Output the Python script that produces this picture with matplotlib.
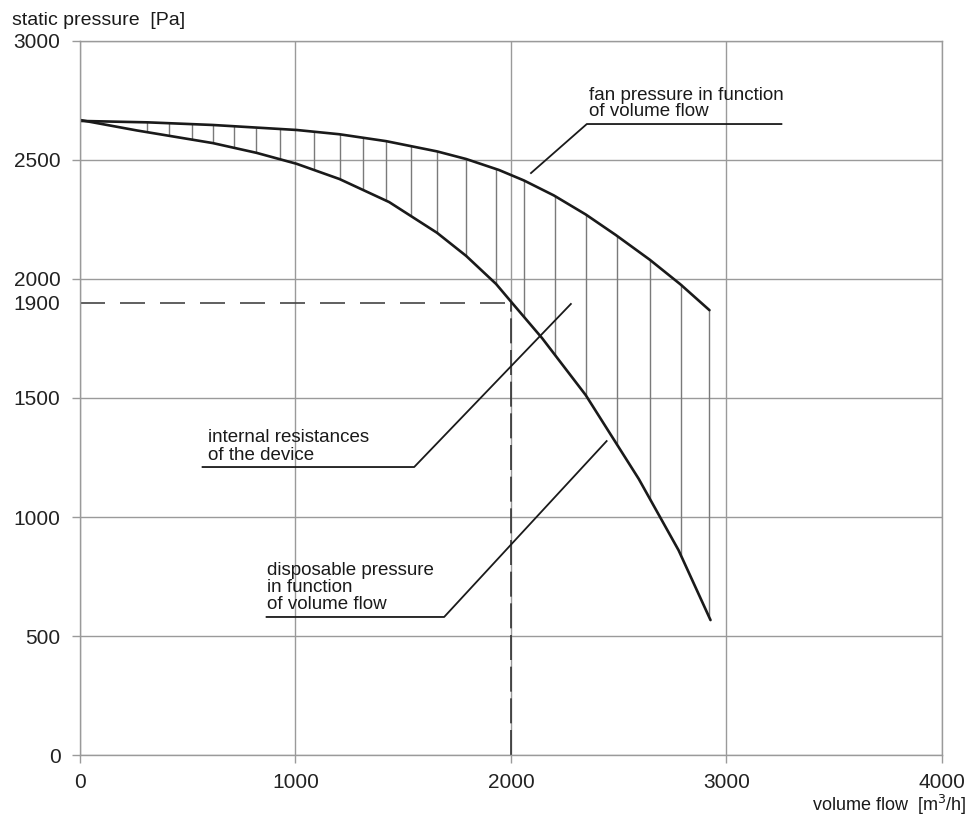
import matplotlib.pyplot as plt
import numpy as np

plt.rcParams["font.family"] = ["Liberation Sans", "DejaVu Sans"]

# fan pressure curve (upper)
fan_flow = [0, 315, 616, 1005, 1204, 1421, 1657, 1792, 1944, 2060, 2199, 2347, 2486, 2644, 2787, 2921]
fan_pressure = [2664, 2658, 2647, 2626, 2608, 2579, 2536, 2504, 2458, 2414, 2351, 2271, 2185, 2081, 1977, 1869]

# disposable pressure curve (lower)
disp_flow = [0, 264, 616, 819, 1005, 1204, 1435, 1657, 1792, 1931, 2000, 2144, 2347, 2593, 2778, 2926]
disp_pressure = [2668, 2624, 2571, 2530, 2484, 2420, 2323, 2194, 2097, 1979, 1905, 1752, 1512, 1160, 860, 567]

# positions of the vertical hatch lines (internal resistances)
hatch_flow = [310, 412, 519, 616, 713, 819, 926, 1088, 1208, 1315, 1421, 1537, 1657,
              1792, 1931, 2060, 2204, 2347, 2491, 2644, 2787, 2917]

# operating point
op_flow = 2000
op_pressure = 1900

x_ticks = [0, 1000, 2000, 3000, 4000]
y_ticks = [0, 500, 1000, 1500, 2000, 2500, 3000]

grid_col = "#9a9a9a"
ink = "#1a1a1a"

fig = plt.figure(figsize=(9.68, 8.19), dpi=100)
ax = fig.add_axes([0.0826, 0.0781, 0.8905, 0.8719])

ax.set_xlim(0, 4000)
ax.set_ylim(0, 3000)
ax.set_xticks(x_ticks)
ax.set_yticks(y_ticks)
ax.set_yticks([op_pressure], minor=True)
ax.set_yticklabels([str(op_pressure)], minor=True)
ax.grid(True, which="major", color=grid_col, linewidth=1.0)
ax.set_axisbelow(True)
for sp in ax.spines.values():
    sp.set_color(grid_col)
    sp.set_linewidth(1.0)
ax.tick_params(which="major", direction="out", length=6, width=1.0, color=grid_col,
               labelsize=15, labelcolor="#222222")
ax.tick_params(axis="y", which="major", pad=8)
ax.tick_params(axis="x", which="major", pad=7)
ax.tick_params(axis="y", which="minor", length=0, pad=14, labelsize=15, labelcolor="#222222")

# hatch between the curves
h_top = np.interp(hatch_flow, fan_flow, fan_pressure)
h_bot = np.interp(hatch_flow, disp_flow, disp_pressure)
ax.vlines(hatch_flow, h_bot, h_top, colors="#7a7a7a", linewidth=1.0)

# operating point dashed lines
ax.plot([0, op_flow], [op_pressure, op_pressure], color="#444444", linewidth=1.2,
        linestyle=(0, (15, 9)))
ax.plot([op_flow, op_flow], [0, op_pressure], color="#333333", linewidth=1.2,
        linestyle=(0, (15, 4)))

# curves
ax.plot(fan_flow, fan_pressure, color=ink, linewidth=1.9, solid_capstyle="round")
ax.plot(disp_flow, disp_pressure, color=ink, linewidth=1.9, solid_capstyle="round")

# callouts
lead_kw = dict(color=ink, linewidth=1.3)
ax.plot([2093, 2352, 3255], [2445, 2651, 2651], **lead_kw)
ax.text(2360, 2668, "fan pressure in function\nof volume flow", fontsize=13.5,
        ha="left", va="bottom", linespacing=0.92, color=ink)

ax.plot([569, 1551, 2278], [1210, 1210, 1895], **lead_kw)
ax.text(593, 1222, "internal resistances\nof the device", fontsize=13.5,
        ha="left", va="bottom", linespacing=1.12, color=ink)

ax.plot([866, 1690, 2444], [580, 580, 1319], **lead_kw)
ax.text(870, 598, "disposable pressure\nin function\nof volume flow", fontsize=13.5,
        ha="left", va="bottom", linespacing=0.98, color=ink)

fig.text(0.012, 1 - 25 / 819, "static pressure  [Pa]", fontsize=14, ha="left",
         va="baseline", color=ink)
fig.text(0.998, 1 - 811 / 819, "volume flow  [m$^3$/h]", fontsize=13, ha="right",
         va="baseline", color=ink)

fig.savefig("out.png", dpi=100)
